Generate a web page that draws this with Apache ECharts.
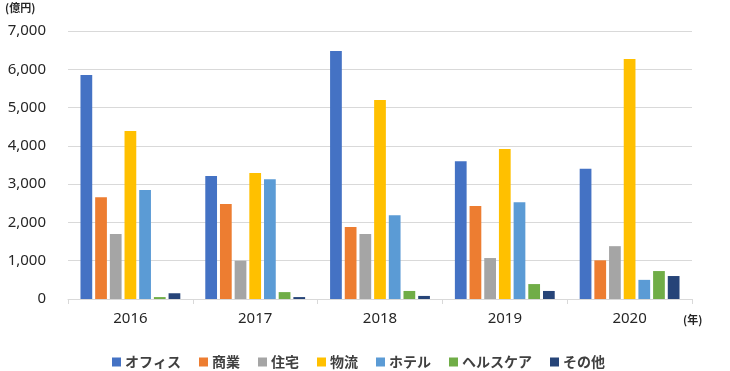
<!DOCTYPE html>
<html><head><meta charset="utf-8">
<script src="https://cdn.jsdelivr.net/npm/echarts@6/dist/echarts.min.js"></script>
<style>html,body{margin:0;padding:0;background:#fff}#c{width:730px;height:371px}</style>
</head><body><div id="c"></div>
<script>
const years = ['2016','2017','2018','2019','2020'];
const seriesNames = ['オフィス','商業','住宅','物流','ホテル','ヘルスケア','その他'];
const colors = ['#4472C4','#ED7D31','#A5A5A5','#FFC000','#5B9BD5','#70AD47','#264478'];
const office      = [5850, 3210, 6480, 3600, 3400];
const commercial  = [2660, 2480, 1880, 2430, 1010];
const residential = [1700, 1000, 1700, 1070, 1380];
const logistics   = [4390, 3290, 5200, 3920, 6270];
const hotel       = [2850, 3130, 2190, 2530, 500];
const healthcare  = [50, 180, 210, 390, 730];
const other       = [150, 50, 80, 210, 600];
const yTicks = [0, 1000, 2000, 3000, 4000, 5000, 6000, 7000];
const values = [office, commercial, residential, logistics, hotel, healthcare, other];

const font = "'Noto Sans','Noto Sans CJK JP',sans-serif";
const chart = echarts.init(document.getElementById('c'));
chart.setOption({
  animation: false,
  color: colors,
  grid: {left: 68, right: 38, top: 31, bottom: 72},
  graphic: [
    {type:'text', left: 5, top: 2, style:{text:'(億円)', font:"bold 11px 'Noto Sans CJK JP',sans-serif", fill:'#262626'}},
    {type:'text', left: 683, top: 314, style:{text:'(年)', font:"bold 11px 'Noto Sans CJK JP',sans-serif", fill:'#262626'}}
  ],
  legend: {
    left: 107, top: 350,
    itemWidth: 9, itemHeight: 9, itemGap: 18,
    icon: 'rect',
    textStyle: {fontFamily: "'Noto Sans CJK JP',sans-serif", fontWeight: 'bold', fontSize: 14, color: '#404040', padding: [0,0,0,-1]},
    data: seriesNames
  },
  xAxis: {
    type: 'category', data: years,
    axisLine: {lineStyle: {color: '#d9d9d9'}},
    axisTick: {show: true, length: 5, lineStyle: {color: '#d9d9d9'}},
    axisLabel: {fontFamily: font, fontSize: 15, color: '#262626', margin: 12}
  },
  yAxis: {
    type: 'value', min: 0, max: 7000, interval: 1000,
    axisLine: {show: false}, axisTick: {show: false},
    splitLine: {lineStyle: {color: '#d9d9d9'}},
    axisLabel: {fontFamily: font, fontSize: 15, color: '#262626', margin: 22,
      formatter: v => yTicks.includes(v) ? v.toLocaleString('en-US') : ''}
  },
  series: seriesNames.map((n, i) => ({
    name: n, type: 'bar', data: values[i],
    barGap: '25%', barCategoryGap: '20%'
  }))
});
</script></body></html>
